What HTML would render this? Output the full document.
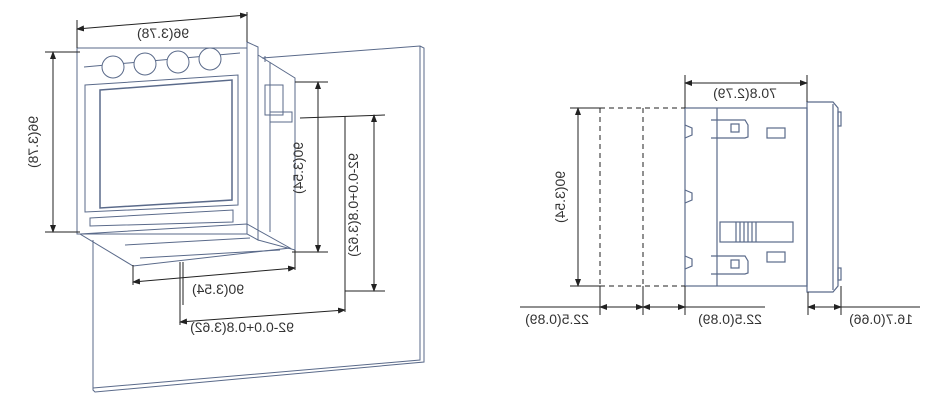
<!DOCTYPE html>
<html><head><meta charset="utf-8"><style>
html,body{margin:0;padding:0;background:#fff;}
svg{display:block}
text{font-family:"Liberation Sans",sans-serif;font-size:14px;fill:#333;}
</style></head><body>
<svg width="943" height="400" viewBox="0 0 943 400" xmlns="http://www.w3.org/2000/svg">
<defs>
<marker id="a" markerWidth="8" markerHeight="6" refX="7" refY="3" orient="auto-start-reverse" markerUnits="userSpaceOnUse"><path d="M0,0L8,3L0,6z" fill="#222"/></marker>
</defs>
<g fill="none" stroke="#5a6a8a" stroke-width="1">
<!-- panel -->
<polyline points="262,58 420,46 424,48 424,362 95,392 93,390 93,240"/>
<polyline points="420,46 420,360 93,388"/>
<line x1="265" y1="56" x2="265" y2="62"/>
<!-- side of device -->
<polygon points="247,42 258,47 258,240 247,234"/>
<polygon points="258,55 295,78 295,250 258,240"/>
<line x1="270" y1="62" x2="270" y2="232"/>
<rect x="265" y="85" width="18" height="30"/>
<rect x="270" y="112" width="22" height="10"/>
<!-- front -->
<rect x="77" y="48" width="170" height="186" fill="#fff"/>
<line x1="84" y1="67" x2="240" y2="53"/>
<circle cx="113" cy="67" r="11" fill="#fff"/>
<circle cx="145" cy="64" r="11" fill="#fff"/>
<circle cx="178" cy="62" r="11" fill="#fff"/>
<circle cx="210" cy="59" r="11" fill="#fff"/>
<polygon points="85,85 238,75 238,205 85,212"/>
<polygon points="100,90 232,80 232,200 100,208" stroke-width="1.5"/>
<polygon points="90,218 233,210 233,222 90,226"/>
<polygon points="80,234 247,224 290,248 133,266"/>
<line x1="125" y1="245" x2="250" y2="238"/>
<line x1="140" y1="258" x2="280" y2="250"/>
</g>
<g stroke="#222" stroke-width="1" fill="none">
<!-- dims left -->
<line x1="77" y1="20" x2="77" y2="48"/><line x1="247" y1="12" x2="247" y2="42"/>
<line x1="77" y1="29" x2="247" y2="15" marker-start="url(#a)" marker-end="url(#a)"/>
<line x1="45" y1="52" x2="80" y2="52"/><line x1="45" y1="232" x2="80" y2="232"/>
<line x1="53" y1="52" x2="53" y2="232" marker-start="url(#a)" marker-end="url(#a)"/>
<line x1="295" y1="82" x2="328" y2="82"/><line x1="292" y1="252" x2="328" y2="252"/>
<line x1="318" y1="82" x2="318" y2="252" marker-start="url(#a)" marker-end="url(#a)"/>
<line x1="300" y1="118" x2="385" y2="115"/><line x1="345" y1="291" x2="385" y2="291"/>
<line x1="374" y1="115" x2="374" y2="291" marker-start="url(#a)" marker-end="url(#a)"/>
<line x1="345" y1="116" x2="345" y2="312"/>
<line x1="133" y1="265" x2="133" y2="285"/><line x1="295" y1="250" x2="295" y2="270"/>
<line x1="133" y1="282" x2="295" y2="268" marker-start="url(#a)" marker-end="url(#a)"/>
<line x1="180" y1="262" x2="180" y2="325"/><line x1="183" y1="262" x2="183" y2="305"/>
<line x1="180" y1="322" x2="345" y2="310" marker-start="url(#a)" marker-end="url(#a)"/>
</g>
<text transform="translate(163,38) scale(-1,1)" text-anchor="middle">96(3.78)</text>
<text transform="translate(38,142) scale(-1,1) rotate(90)" text-anchor="middle">96(3.78)</text>
<text transform="translate(303,168) scale(-1,1) rotate(90)" text-anchor="middle">90(3.54)</text>
<text transform="translate(358,205) scale(-1,1) rotate(90)" text-anchor="middle">92-0.0+0.8(3.62)</text>
<text transform="translate(218,294) scale(-1,1)" text-anchor="middle">90(3.54)</text>
<text transform="translate(242,332) scale(-1,1)" text-anchor="middle">92-0.0+0.8(3.62)</text>
<!-- right drawing -->
<g fill="none" stroke="#5a6a8a" stroke-width="1.2">
<rect x="685" y="108" width="122" height="178"/>
<line x1="717" y1="108" x2="717" y2="286"/>
<path d="M807,102 L833,102 L838,108 L838,286 L833,292 L807,292 Z"/>
<line x1="833" y1="104" x2="833" y2="290"/>
<rect x="838" y="112" width="3" height="14"/><rect x="838" y="268" width="3" height="12"/>
<path d="M711,120 L745,120 L748,125 L748,137 L745,138 L711,138"/><rect x="731" y="124" width="8" height="8"/>
<path d="M711,256 L745,256 L748,261 L748,273 L745,274 L711,274"/><rect x="731" y="260" width="8" height="8"/>
<rect x="767" y="128" width="18" height="10"/><rect x="767" y="252" width="18" height="10"/>
<path d="M685,125 L692,128 L692,135 L685,138"/>
<path d="M685,190 L692,193 L692,200 L685,203"/>
<path d="M685,256 L692,259 L692,266 L685,269"/>
<rect x="720" y="222" width="73" height="20"/>
<line x1="736" y1="222" x2="736" y2="242"/><line x1="740" y1="222" x2="740" y2="242"/><line x1="744" y1="222" x2="744" y2="242"/><line x1="748" y1="222" x2="748" y2="242"/><line x1="752" y1="222" x2="752" y2="242"/><line x1="756" y1="222" x2="756" y2="242"/>
</g>
<g stroke="#222" stroke-width="1" fill="none">
<line x1="600" y1="108" x2="685" y2="108" stroke-dasharray="5,4"/>
<line x1="600" y1="286" x2="685" y2="286" stroke-dasharray="5,4"/>
<line x1="600" y1="108" x2="600" y2="286" stroke-dasharray="5,4"/>
<line x1="643" y1="108" x2="643" y2="286" stroke-dasharray="5,4"/>
<line x1="570" y1="108" x2="600" y2="108"/><line x1="570" y1="286" x2="600" y2="286"/>
<line x1="578" y1="108" x2="578" y2="286" marker-start="url(#a)" marker-end="url(#a)"/>
<line x1="685" y1="75" x2="685" y2="108"/><line x1="807" y1="75" x2="807" y2="102"/>
<line x1="685" y1="83" x2="807" y2="83" marker-start="url(#a)" marker-end="url(#a)"/>
<line x1="520" y1="307" x2="765" y2="307"/>
<line x1="600" y1="286" x2="600" y2="315"/><line x1="643" y1="286" x2="643" y2="315"/><line x1="685" y1="286" x2="685" y2="315"/>
<line x1="600" y1="307" x2="643" y2="307" marker-start="url(#a)" marker-end="url(#a)"/>
<line x1="643" y1="307" x2="685" y2="307" marker-start="url(#a)" marker-end="url(#a)"/>
<line x1="808" y1="292" x2="808" y2="315"/><line x1="841" y1="286" x2="841" y2="315"/>
<line x1="808" y1="307" x2="920" y2="307"/>
<line x1="808" y1="307" x2="841" y2="307" marker-start="url(#a)" marker-end="url(#a)"/>
</g>
<text transform="translate(745,98) scale(-1,1)" text-anchor="middle">70.8(2.79)</text>
<text transform="translate(565,197) scale(-1,1) rotate(90)" text-anchor="middle">90(3.54)</text>
<text transform="translate(557,324) scale(-1,1)" text-anchor="middle">22.5(0.89)</text>
<text transform="translate(730,324) scale(-1,1)" text-anchor="middle">22.5(0.89)</text>
<text transform="translate(881,324) scale(-1,1)" text-anchor="middle">16.7(0.66)</text>
</svg>
</body></html>
